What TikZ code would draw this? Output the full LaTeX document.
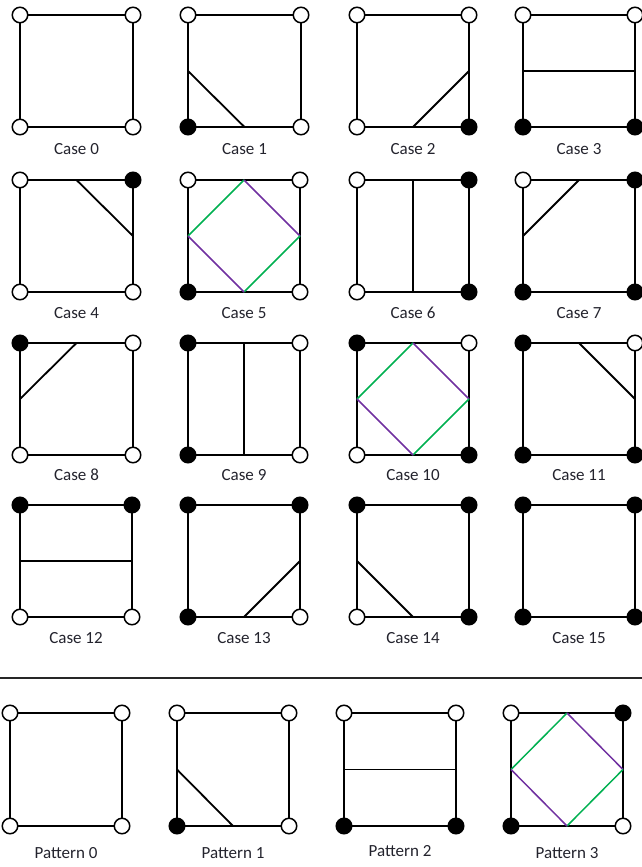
\documentclass[tikz,border=0pt]{standalone}
\usepackage{fontspec}
\setmainfont{Carlito}
\definecolor{mgreen}{RGB}{0,176,80}
\definecolor{mpurple}{RGB}{112,48,160}
\definecolor{labcol}{RGB}{35,35,45}
\tikzset{
  edge/.style={line width=1.8pt, line join=miter},
  iso/.style={line width=1.8pt},
  isog/.style={line width=1.5pt, draw=mgreen},
  isop/.style={line width=1.5pt, draw=mpurple},
  vtx/.style={circle, draw=black, line width=1.5pt, minimum size=15.5pt, inner sep=0pt},
  on/.style={vtx, fill=black},
  off/.style={vtx, fill=white},
  lab/.style={anchor=base, font=\fontsize{17}{19}\selectfont, text=labcol, inner sep=0pt},
  sepline/.style={line width=1.3pt, draw=black!85}
}
% #1 name, #2 x, #3 top y, #4 w, #5 h, #6 TL, #7 TR, #8 BL, #9 BR
\newcommand{\mycell}[9]{%
  \coordinate (#1tl) at (#2,#3);
  \coordinate (#1tr) at ({#2+#4},#3);
  \coordinate (#1bl) at (#2,{#3+#5});
  \coordinate (#1br) at ({#2+#4},{#3+#5});
  \coordinate (#1t) at ({#2+#4/2},#3);
  \coordinate (#1b) at ({#2+#4/2},{#3+#5});
  \coordinate (#1l) at (#2,{#3+#5/2});
  \coordinate (#1r) at ({#2+#4},{#3+#5/2});
  \draw[edge] (#1tl) -- (#1tr) -- (#1br) -- (#1bl) -- cycle;
  \node[#6] (#1ntl) at (#1tl) {};
  \node[#7] (#1ntr) at (#1tr) {};
  \node[#8] (#1nbl) at (#1bl) {};
  \node[#9] (#1nbr) at (#1br) {};
}
\newcommand{\mylab}[5]{% name, x, w, baseline y, text
  \node[lab] (#1lab) at ({#2+#3/2},#4) {#5};
}
\begin{document}
\begin{tikzpicture}[x=1pt,y=-1pt]
\useasboundingbox (0,0) rectangle (642,867);
\clip (0,0) rectangle (642,867);
% ---- Row 1
\mycell{c0}{20}{15}{113}{112}{off}{off}{off}{off}
\mycell{c1}{188}{15}{113}{112}{off}{off}{on}{off}
\mycell{c2}{357}{15}{112}{112}{off}{off}{off}{on}
\mycell{c3}{523}{15}{112}{112}{off}{off}{on}{on}
\draw[iso] (c1l) -- (c1b);
\draw[iso] (c2r) -- (c2b);
\draw[iso] (c3l) -- (c3r);
\mylab{c0}{20}{113}{154}{Case 0}
\mylab{c1}{188}{113}{154}{Case 1}
\mylab{c2}{357}{112}{154}{Case 2}
\mylab{c3}{523}{112}{154}{Case 3}
% ---- Row 2
\mycell{c4}{20}{180}{113}{112}{off}{on}{off}{off}
\mycell{c5}{188}{180}{112}{112}{off}{off}{on}{off}
\mycell{c6}{357}{180}{112}{112}{off}{on}{off}{on}
\mycell{c7}{523}{180}{112}{112}{off}{on}{on}{on}
\draw[iso] (c4t) -- (c4r);
\draw[isog] (c5l) -- (c5t);
\draw[isop] (c5t) -- (c5r);
\draw[isog] (c5r) -- (c5b);
\draw[isop] (c5l) -- (c5b);
\draw[iso] (c6t) -- (c6b);
\draw[iso] (c7t) -- (c7l);
\mylab{c4}{20}{113}{318}{Case 4}
\mylab{c5}{188}{112}{318}{Case 5}
\mylab{c6}{357}{112}{318}{Case 6}
\mylab{c7}{523}{112}{318}{Case 7}
% ---- Row 3
\mycell{c8}{20}{343}{113}{112}{on}{off}{off}{off}
\mycell{c9}{188}{343}{112}{112}{on}{off}{on}{off}
\mycell{c10}{357}{343}{112}{112}{on}{off}{off}{on}
\mycell{c11}{523}{343}{112}{112}{on}{off}{on}{on}
\draw[iso] (c8t) -- (c8l);
\draw[iso] (c9t) -- (c9b);
\draw[isog] (c10l) -- (c10t);
\draw[isop] (c10t) -- (c10r);
\draw[isog] (c10r) -- (c10b);
\draw[isop] (c10l) -- (c10b);
\draw[iso] (c11t) -- (c11r);
\mylab{c8}{20}{113}{480}{Case 8}
\mylab{c9}{188}{112}{480}{Case 9}
\mylab{c10}{357}{112}{480}{Case 10}
\mylab{c11}{523}{112}{480}{Case 11}
% ---- Row 4
\mycell{c12}{20}{505}{112}{112}{on}{on}{off}{off}
\mycell{c13}{188}{505}{112}{112}{on}{on}{on}{off}
\mycell{c14}{357}{505}{112}{112}{on}{on}{off}{on}
\mycell{c15}{523}{505}{112}{112}{on}{on}{on}{on}
\draw[iso] (c12l) -- (c12r);
\draw[iso] (c13r) -- (c13b);
\draw[iso] (c14l) -- (c14b);
\mylab{c12}{20}{112}{643}{Case 12}
\mylab{c13}{188}{112}{643}{Case 13}
\mylab{c14}{357}{112}{643}{Case 14}
\mylab{c15}{523}{112}{643}{Case 15}
% ---- separator
\coordinate (sepL) at (0,678);
\coordinate (sepR) at (642,678);
\draw[sepline] (sepL) -- (sepR);
% ---- Patterns
\mycell{p0}{10}{713}{112}{113}{off}{off}{off}{off}
\mycell{p1}{177}{713}{112}{113}{off}{off}{on}{off}
\mycell{p2}{344}{713}{112}{113}{off}{off}{on}{on}
\mycell{p3}{511}{713}{112}{113}{off}{on}{on}{off}
\draw[iso] (p1l) -- (p1b);
\draw[iso] (p2l) -- (p2r);
\draw[isog] (p3l) -- (p3t);
\draw[isop] (p3t) -- (p3r);
\draw[isog] (p3r) -- (p3b);
\draw[isop] (p3l) -- (p3b);
\mylab{p0}{10}{112}{858}{Pattern 0}
\mylab{p1}{177}{112}{858}{Pattern 1}
\mylab{p2}{344}{112}{856}{Pattern 2}
\mylab{p3}{511}{112}{858}{Pattern 3}
\end{tikzpicture}
\end{document}
